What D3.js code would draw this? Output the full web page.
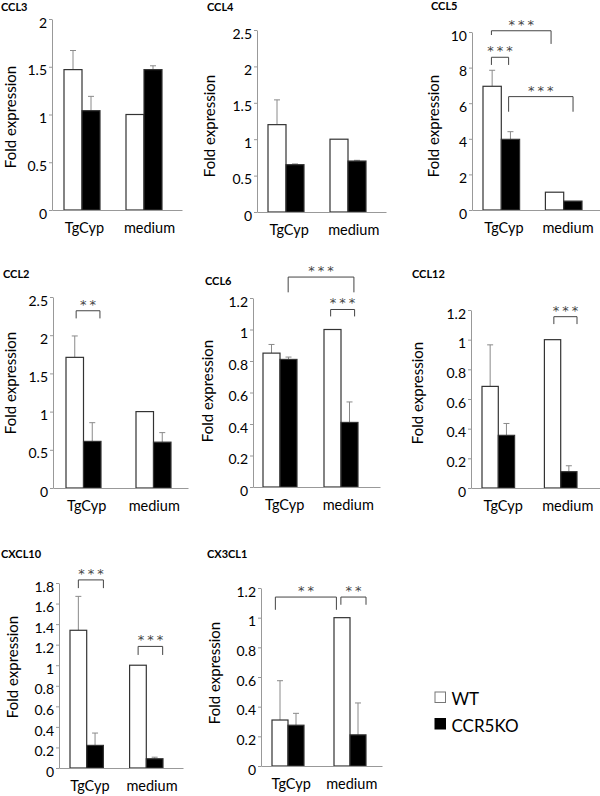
<!DOCTYPE html>
<html>
<head>
<meta charset="utf-8">
<script src="https://cdn.jsdelivr.net/npm/d3@7"></script>
<style>
	body { margin: 0; background: #fff; }
	svg { display: block; font-family: Lato, "Open Sans", sans-serif; }
</style>
</head>
<body>
<svg id="chart" width="600" height="796"></svg>
<script>
var panelNames = ["CCL3", "CCL4", "CCL5", "CCL2", "CCL6", "CCL12", "CXCL10", "CX3CL1"],
	groups = ["TgCyp", "medium"],
	seriesNames = ["WT", "CCR5KO"];

// mean and error (upper arm) per panel, [TgCyp, medium]
var wtMean = [[1.47, 1.0], [1.2, 1.0], [6.95, 1.0], [1.71, 1.0], [0.85, 1.0], [0.685, 1.0], [1.34, 1.0], [0.31, 1.0]],
	wtErr  = [[0.2, 0], [0.34, 0], [0.9, 0], [0.28, 0], [0.055, 0], [0.28, 0], [0.33, 0], [0.265, 0]],
	koMean = [[1.04, 1.47], [0.65, 0.7], [3.97, 0.5], [0.61, 0.6], [0.81, 0.41], [0.355, 0.11], [0.22, 0.09], [0.275, 0.21]],
	koErr  = [[0.15, 0.04], [0.01, 0.01], [0.43, 0], [0.245, 0.125], [0.015, 0.13], [0.08, 0.04], [0.12, 0.015], [0.08, 0.215]];

var yMax = [2, 2.5, 10, 2.5, 1.2, 1.2, 1.8, 1.2],
	yTicks = [
		[0, 0.5, 1, 1.5, 2],
		[0, 0.5, 1, 1.5, 2, 2.5],
		[0, 2, 4, 6, 8, 10],
		[0, 0.5, 1, 1.5, 2, 2.5],
		[0, 0.2, 0.4, 0.6, 0.8, 1, 1.2],
		[0, 0.2, 0.4, 0.6, 0.8, 1, 1.2],
		[0, 0.2, 0.4, 0.6, 0.8, 1, 1.2, 1.4, 1.6, 1.8],
		[0, 0.2, 0.4, 0.6, 0.8, 1, 1.2]
	];

// significance brackets: a/b = [group, series, anchor within bar], heights in data units
var brackets = [
	[],
	[],
	[
		{a: [0, 0, 0.46], b: [0, 1, 0.4], top: 8.58, legA: 8.15, legB: 8.15, label: "***"},
		{a: [0, 0, 0.46], b: [1, 0, 0.31], top: 10.07, legA: 9.83, legB: 9.33, label: "***"},
		{a: [0, 1, 0.4], b: [1, 1, 0.51], top: 6.37, legA: 5.52, legB: 5.52, label: "***"}
	],
	[
		{a: [0, 0, 0.58], b: [0, 1, 0.94], top: 2.32, legA: 2.22, legB: 2.22, label: "**"}
	],
	[
		{a: [0, 1, 0.48], b: [1, 1, 0.76], top: 1.333, legA: 1.236, legB: 1.236, label: "***"},
		{a: [1, 0, 0.39], b: [1, 1, 0.8], top: 1.127, legA: 1.083, legB: 1.083, label: "***"}
	],
	[
		{a: [1, 0, 0.58], b: [1, 1, 1.0], top: 1.155, legA: 1.105, legB: 1.105, label: "***"}
	],
	[
		{a: [0, 0, 0.5], b: [0, 1, 1.0], top: 1.83, legA: 1.75, legB: 1.75, label: "***"},
		{a: [1, 0, 0.51], b: [1, 1, 0.98], top: 1.183, legA: 1.10, legB: 1.10, label: "***"}
	],
	[
		{a: [0, 0, 0.21], b: [1, 0, 0.15], top: 1.139, legA: 1.053, legB: 1.053, label: "**"},
		{a: [1, 0, 0.43], b: [1, 1, 1.0], top: 1.139, legA: 1.087, legB: 1.087, label: "**"}
	]
];

// panel placement on the page
var layout = [
	{axisX: 52,  base: 210, top: 19,  end: 182, g0: 64,  g1: 162, bw: 18,   tx: 1,   ty: 11,  lx: 16,  ly: 117},
	{axisX: 257, base: 212, top: 30,  end: 386, g0: 268, g1: 366, bw: 18,   tx: 207, ty: 11,  lx: 215, ly: 126},
	{axisX: 472, base: 210, top: 32,  end: 600, g0: 483, g1: 582, bw: 18.3, tx: 431, ty: 10,  lx: 439, ly: 126},
	{axisX: 53,  base: 488, top: 297, end: 188, g0: 66,  g1: 171, bw: 17.5, tx: 3,   ty: 278, lx: 16,  ly: 383},
	{axisX: 253, base: 487, top: 298, end: 380, g0: 263, g1: 358, bw: 17,   tx: 205, ty: 285, lx: 213, ly: 391},
	{axisX: 471, base: 488, top: 310, end: 600, g0: 482, g1: 577, bw: 16.3, tx: 412, ty: 278, lx: 423, ly: 393},
	{axisX: 59,  base: 768, top: 583, end: 183, g0: 70,  g1: 163, bw: 16.7, tx: 1,   ty: 558, lx: 18,  ly: 667},
	{axisX: 261, base: 766, top: 588, end: 382, g0: 272, g1: 366, bw: 16,   tx: 207, ty: 558, lx: 220, ly: 673}
];

var svg = d3.select("#chart"),
	fills = ["#fff", "#000"];

panelNames.forEach(function(name, i) {
	var L = layout[i],
		g = svg.append("g");

	var y = d3.scaleLinear()
		.domain([0, yMax[i]])
		.range([L.base, L.top]);

	var xAxisScale = d3.scaleBand()
		.domain(groups)
		.range([L.axisX, L.end]);

	var span = L.g1 - L.g0;
	var x = d3.scaleBand()
		.domain(groups)
		.range([L.g0, L.g1])
		.paddingInner((span - 4 * L.bw) / (span - 2 * L.bw));

	var xs = d3.scaleBand()
		.domain(seriesNames)
		.range([0, x.bandwidth()]);

	var data = [];
	groups.forEach(function(grp, gi) {
		data.push({group: grp, series: seriesNames[0], s: 0, value: wtMean[i][gi], err: wtErr[i][gi]});
		data.push({group: grp, series: seriesNames[1], s: 1, value: koMean[i][gi], err: koErr[i][gi]});
	});

	var barX = (gi, si, f) => x(groups[gi]) + xs(seriesNames[si]) + f * xs.bandwidth(),
		mid = d => x(d.group) + xs(d.series) + xs.bandwidth() / 2;

	// error bars first so bar outline covers their foot
	var eb = g.selectAll(".err")
		.data(data.filter(d => d.err > 0))
	.enter().append("g")
		.attr("class", "err")
		.attr("stroke", "#8a8a8a")
		.attr("stroke-width", 1);

	eb.append("line")
		.attr("x1", mid)
		.attr("x2", mid)
		.attr("y1", d => y(d.value))
		.attr("y2", d => y(d.value + d.err));

	eb.append("line")
		.attr("x1", d => mid(d) - 3)
		.attr("x2", d => mid(d) + 3)
		.attr("y1", d => y(d.value + d.err))
		.attr("y2", d => y(d.value + d.err));

	g.selectAll(".bar")
		.data(data)
	.enter().append("rect")
		.attr("class", "bar")
		.attr("x", d => x(d.group) + xs(d.series))
		.attr("y", d => y(d.value))
		.attr("width", xs.bandwidth())
		.attr("height", d => y(0) - y(d.value))
		.attr("fill", d => fills[d.s])
		.attr("stroke", "#333")
		.attr("stroke-width", 1.2);

	// axes
	var ya = g.append("g")
		.attr("transform", "translate(" + L.axisX + ",0)")
		.call(d3.axisLeft(y).tickValues(yTicks[i]).tickSize(3).tickSizeOuter(0).tickFormat(d3.format("~g")));

	var xa = g.append("g")
		.attr("transform", "translate(0," + L.base + ")")
		.call(d3.axisBottom(xAxisScale).tickSize(0).tickSizeOuter(0).tickPadding(13));

	[ya, xa].forEach(function(a) {
		a.select(".domain").attr("stroke", "#999");
		a.selectAll(".tick line").attr("stroke", "#999");
		a.selectAll(".tick text")
			.attr("fill", "#000")
			.style("font-family", "Lato, 'Open Sans', sans-serif");
	});
	ya.selectAll(".tick text").attr("dy", "0.58em").attr("x", -5).style("font-size", "14px");
	xa.selectAll(".tick text").style("font-size", "14.5px");

	// titles
	g.append("text")
		.attr("x", L.tx)
		.attr("y", L.ty)
		.attr("font-size", "11px")
		.attr("font-weight", "bold")
		.text(name);

	g.append("text")
		.attr("transform", "translate(" + L.lx + "," + L.ly + ") rotate(-90)")
		.attr("text-anchor", "middle")
		.attr("font-size", "15px")
		.text("Fold expression");

	// significance brackets
	brackets[i].forEach(function(b) {
		var xa1 = barX(b.a[0], b.a[1], b.a[2]),
			xb1 = barX(b.b[0], b.b[1], b.b[2]);

		g.append("path")
			.attr("d", "M" + xa1 + "," + y(b.legA) + "V" + y(b.top) + "H" + xb1 + "V" + y(b.legB))
			.attr("fill", "none")
			.attr("stroke", "#444")
			.attr("stroke-width", 1);

		g.append("text")
			.attr("x", (xa1 + xb1) / 2 + 1.5)
			.attr("y", y(b.top) - 2)
			.attr("text-anchor", "middle")
			.attr("font-family", "'DejaVu Sans', sans-serif")
			.attr("font-size", "13px")
			.attr("letter-spacing", "3px")
			.attr("fill", "#444")
			.text(b.label);
	});
});

// legend
var legend = svg.append("g")
	.selectAll("g")
	.data(seriesNames)
.enter().append("g")
	.attr("transform", (d, i) => "translate(435," + (692 + i * 26.5) + ")");

legend.append("rect")
	.attr("width", 10.5)
	.attr("height", 10.5)
	.attr("fill", (d, i) => fills[i])
	.attr("stroke", (d, i) => i ? "#000" : "#777");

legend.append("text")
	.attr("x", 16.5)
	.attr("y", 13)
	.attr("font-size", "17px")
	.text(d => d);
</script>
</body>
</html>
